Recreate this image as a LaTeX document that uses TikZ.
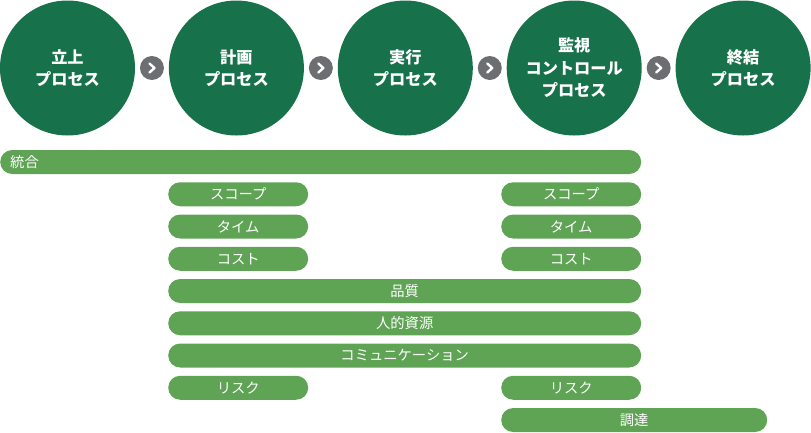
\documentclass[tikz,border=0pt]{standalone}
\usepackage{fontspec}
\newfontfamily\jp{Noto Sans CJK JP}
\usepackage{tikz}
\usetikzlibrary{positioning,calc}
\definecolor{procgreen}{HTML}{17714A}
\definecolor{bargreen}{HTML}{5FA355}
\definecolor{btngray}{HTML}{6D6E71}

\begin{document}
\begin{tikzpicture}[x=1pt,y=1pt,
    proc/.style={circle,fill=procgreen,minimum size=135pt,inner sep=0pt,
        text=white,align=center,font=\jp\bfseries\fontsize{16.2}{22.5}\selectfont},
    nextbtn/.style={circle,fill=btngray,minimum size=24pt,inner sep=0pt},
    bar/.style={fill=bargreen,rounded corners=12pt,minimum height=24pt,
        inner sep=0pt,text=white,anchor=west,font=\jp\fontsize{14.3}{14}\selectfont},
    node distance=33.5pt]
            \useasboundingbox (0,0) rectangle (811,-432);
            % Processes
            \node[proc] (start) at (67.5,-68) {立上\\プロセス};
            \node[proc,right=of start] (plan) {計画\\プロセス};
            \node[proc,right=of plan] (exec) {実行\\プロセス};
            \node[proc,right=of exec] (ctrl) {監視\\コントロール\\プロセス};
            \node[proc,right=of ctrl] (close) {終結\\プロセス};
            % Buttons between the processes
            \foreach \a/\b in {start/plan,plan/exec,exec/ctrl,ctrl/close}{
                \node[nextbtn] (btn-\a) at ($(\a.east)!0.5!(\b.west)$) {};
                \draw[white,line width=2.4pt,line cap=round,line join=round]
                    ([shift={(-2.5pt,4.5pt)}]btn-\a.center) -- ([shift={(2.5pt,0pt)}]btn-\a.center)
                    -- ([shift={(-2.5pt,-4.5pt)}]btn-\a.center);
            }
            % Knowledge areas
            \node[bar,text width=621pt,inner xsep=10pt,align=left] (integ) at (0,-162) {統合};
            \node[bar,minimum width=140pt] (scope1) at (168,-194.25) {スコープ};
            \node[bar,minimum width=140pt] (scope2) at (501,-194.25) {スコープ};
            \node[bar,minimum width=140pt] (time1) at (168,-226.5) {タイム};
            \node[bar,minimum width=140pt] (time2) at (501,-226.5) {タイム};
            \node[bar,minimum width=140pt] (cost1) at (168,-258.75) {コスト};
            \node[bar,minimum width=140pt] (cost2) at (501,-258.75) {コスト};
            \node[bar,minimum width=473pt] (quality) at (168,-291) {品質};
            \node[bar,minimum width=473pt] (hr) at (168,-323.25) {人的資源};
            \node[bar,minimum width=473pt] (comm) at (168,-355.5) {コミュニケーション};
            \node[bar,minimum width=140pt] (risk1) at (168,-387.75) {リスク};
            \node[bar,minimum width=140pt] (risk2) at (501,-387.75) {リスク};
            \node[bar,minimum width=266pt] (procure) at (501,-420) {調達};
        \end{tikzpicture}
\end{document}
